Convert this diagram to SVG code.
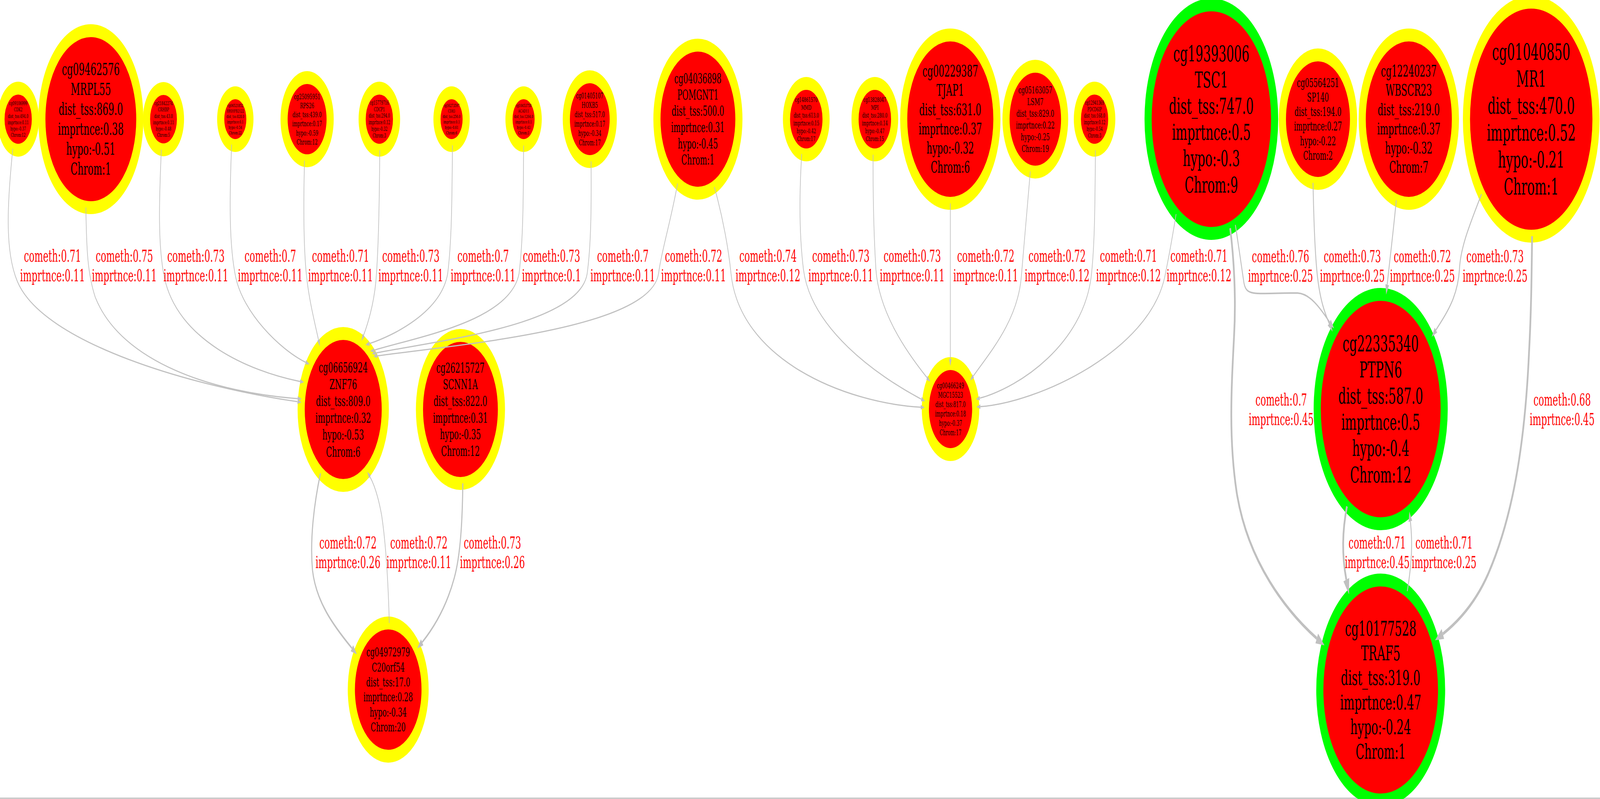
<svg xmlns="http://www.w3.org/2000/svg" width="7398" height="2045" viewBox="0 0 7398 2045" preserveAspectRatio="none">
<style>
svg{width:100%;height:100%}
.y circle{fill:#ff0000;stroke:#ffff00;stroke-width:33}
.g circle{fill:#ff0000;stroke:#00ff00;stroke-width:33}
.nodes text{font-family:"DejaVu Serif","Liberation Serif",serif;text-anchor:middle;fill:#000000}
.edges path{fill:none;stroke:#c0c0c0}
.edges text{font-family:"DejaVu Serif","Liberation Serif",serif;text-anchor:middle;fill:#ff0000;font-size:42px}
.t{stroke-width:3}
.m{stroke-width:4}
.h{stroke-width:5}
.k{stroke-width:8}
</style>
<defs>
<marker id="a3" markerUnits="userSpaceOnUse" viewBox="0 0 18 12" markerWidth="18" markerHeight="12" refX="0" refY="6" orient="auto"><path d="M0,0 L18,6 L0,12 z" fill="#c0c0c0"/></marker>
<marker id="a4" markerUnits="userSpaceOnUse" viewBox="0 0 26 17" markerWidth="26" markerHeight="17" refX="0" refY="8.5" orient="auto"><path d="M0,0 L26,8.5 L0,17 z" fill="#c0c0c0"/></marker>
<marker id="a5" markerUnits="userSpaceOnUse" viewBox="0 0 28 19" markerWidth="28" markerHeight="19" refX="0" refY="9.5" orient="auto"><path d="M0,0 L28,9.5 L0,19 z" fill="#c0c0c0"/></marker>
<marker id="a8" markerUnits="userSpaceOnUse" viewBox="0 0 40 28" markerWidth="40" markerHeight="28" refX="0" refY="14" orient="auto"><path d="M0,0 L40,14 L0,28 z" fill="#c0c0c0"/></marker>
</defs>
<rect x="0" y="0" width="7398" height="2045" fill="#ffffff"/>
<line x1="0" y1="2043" x2="7398" y2="2043" stroke="#c0c0c0" stroke-width="3"/>
<g class="nodes">
<g id="n-cg09106999" class="y"><circle cx="84" cy="305" r="79.5"/><text y="269.2" font-size="13.5"><tspan x="84">cg09106999</tspan><tspan x="84" dy="1.2em">CDK2</tspan><tspan x="84" dy="1.2em">dist_tss:494.0</tspan><tspan x="84" dy="1.2em">imprtnce:0.11</tspan><tspan x="84" dy="1.2em">hypo:-0.37</tspan><tspan x="84" dy="1.2em">Chrom:12</tspan></text></g>
<g id="n-cg09462576" class="y"><circle cx="420" cy="305" r="226.5"/><text y="192.4" font-size="42.5"><tspan x="420">cg09462576</tspan><tspan x="420" dy="1.2em">MRPL55</tspan><tspan x="420" dy="1.2em">dist_tss:869.0</tspan><tspan x="420" dy="1.2em">imprtnce:0.38</tspan><tspan x="420" dy="1.2em">hypo:-0.51</tspan><tspan x="420" dy="1.2em">Chrom:1</tspan></text></g>
<g id="n-cg21842274" class="y"><circle cx="756" cy="305" r="78.5"/><text y="269.2" font-size="13.5"><tspan x="756">cg21842274</tspan><tspan x="756" dy="1.2em">CRHBP</tspan><tspan x="756" dy="1.2em">dist_tss:43.0</tspan><tspan x="756" dy="1.2em">imprtnce:0.11</tspan><tspan x="756" dy="1.2em">hypo:-0.48</tspan><tspan x="756" dy="1.2em">Chrom:5</tspan></text></g>
<g id="n-cg06521852" class="y"><circle cx="1088" cy="305" r="67.5"/><text y="274" font-size="11.7"><tspan x="1088">cg06521852</tspan><tspan x="1088" dy="1.2em">HRIHFB2122</tspan><tspan x="1088" dy="1.2em">dist_tss:828.0</tspan><tspan x="1088" dy="1.2em">imprtnce:0.1</tspan><tspan x="1088" dy="1.2em">hypo:-0.54</tspan><tspan x="1088" dy="1.2em">Chrom:22</tspan></text></g>
<g id="n-cg25095951" class="y"><circle cx="1420" cy="305" r="106.5"/><text y="253.9" font-size="19.3"><tspan x="1420">cg25095951</tspan><tspan x="1420" dy="1.2em">RPS26</tspan><tspan x="1420" dy="1.2em">dist_tss:439.0</tspan><tspan x="1420" dy="1.2em">imprtnce:0.17</tspan><tspan x="1420" dy="1.2em">hypo:-0.59</tspan><tspan x="1420" dy="1.2em">Chrom:12</tspan></text></g>
<g id="n-cg15779716" class="y"><circle cx="1754" cy="305" r="79.5"/><text y="267.9" font-size="14"><tspan x="1754">cg15779716</tspan><tspan x="1754" dy="1.2em">CDCP1</tspan><tspan x="1754" dy="1.2em">dist_tss:294.0</tspan><tspan x="1754" dy="1.2em">imprtnce:0.12</tspan><tspan x="1754" dy="1.2em">hypo:-0.32</tspan><tspan x="1754" dy="1.2em">Chrom:3</tspan></text></g>
<g id="n-cg16273597" class="y"><circle cx="2088" cy="305" r="67.5"/><text y="274" font-size="11.7"><tspan x="2088">cg16273597</tspan><tspan x="2088" dy="1.2em">CD83</tspan><tspan x="2088" dy="1.2em">dist_tss:256.0</tspan><tspan x="2088" dy="1.2em">imprtnce:0.1</tspan><tspan x="2088" dy="1.2em">hypo:-0.61</tspan><tspan x="2088" dy="1.2em">Chrom:6</tspan></text></g>
<g id="n-cg10453758" class="y"><circle cx="2421" cy="305" r="67.5"/><text y="274" font-size="11.7"><tspan x="2421">cg10453758</tspan><tspan x="2421" dy="1.2em">ACAD11</tspan><tspan x="2421" dy="1.2em">dist_tss:1264.0</tspan><tspan x="2421" dy="1.2em">imprtnce:0.1</tspan><tspan x="2421" dy="1.2em">hypo:-0.43</tspan><tspan x="2421" dy="1.2em">Chrom:3</tspan></text></g>
<g id="n-cg01405107" class="y"><circle cx="2727" cy="305" r="108.5"/><text y="252" font-size="20"><tspan x="2727">cg01405107</tspan><tspan x="2727" dy="1.2em">HOXB5</tspan><tspan x="2727" dy="1.2em">dist_tss:517.0</tspan><tspan x="2727" dy="1.2em">imprtnce:0.17</tspan><tspan x="2727" dy="1.2em">hypo:-0.34</tspan><tspan x="2727" dy="1.2em">Chrom:17</tspan></text></g>
<g id="n-cg04036898" class="y"><circle cx="3227" cy="305" r="189.5"/><text y="213" font-size="34.7"><tspan x="3227">cg04036898</tspan><tspan x="3227" dy="1.2em">POMGNT1</tspan><tspan x="3227" dy="1.2em">dist_tss:500.0</tspan><tspan x="3227" dy="1.2em">imprtnce:0.31</tspan><tspan x="3227" dy="1.2em">hypo:-0.45</tspan><tspan x="3227" dy="1.2em">Chrom:1</tspan></text></g>
<g id="n-cg14861570" class="y"><circle cx="3728" cy="305" r="91.5"/><text y="260.7" font-size="16.7"><tspan x="3728">cg14861570</tspan><tspan x="3728" dy="1.2em">MMD</tspan><tspan x="3728" dy="1.2em">dist_tss:613.0</tspan><tspan x="3728" dy="1.2em">imprtnce:0.15</tspan><tspan x="3728" dy="1.2em">hypo:-0.42</tspan><tspan x="3728" dy="1.2em">Chrom:17</tspan></text></g>
<g id="n-cg13828047" class="y"><circle cx="4045" cy="305" r="91.5"/><text y="260.7" font-size="16.7"><tspan x="4045">cg13828047</tspan><tspan x="4045" dy="1.2em">MPI</tspan><tspan x="4045" dy="1.2em">dist_tss:280.0</tspan><tspan x="4045" dy="1.2em">imprtnce:0.14</tspan><tspan x="4045" dy="1.2em">hypo:-0.47</tspan><tspan x="4045" dy="1.2em">Chrom:15</tspan></text></g>
<g id="n-cg00229387" class="y"><circle cx="4394" cy="305" r="215.5"/><text y="196.3" font-size="41"><tspan x="4394">cg00229387</tspan><tspan x="4394" dy="1.2em">TJAP1</tspan><tspan x="4394" dy="1.2em">dist_tss:631.0</tspan><tspan x="4394" dy="1.2em">imprtnce:0.37</tspan><tspan x="4394" dy="1.2em">hypo:-0.32</tspan><tspan x="4394" dy="1.2em">Chrom:6</tspan></text></g>
<g id="n-cg05163057" class="y"><circle cx="4787" cy="305" r="135.5"/><text y="238.7" font-size="25"><tspan x="4787">cg05163057</tspan><tspan x="4787" dy="1.2em">LSM7</tspan><tspan x="4787" dy="1.2em">dist_tss:829.0</tspan><tspan x="4787" dy="1.2em">imprtnce:0.22</tspan><tspan x="4787" dy="1.2em">hypo:-0.25</tspan><tspan x="4787" dy="1.2em">Chrom:19</tspan></text></g>
<g id="n-cg12941369" class="y"><circle cx="5061" cy="305" r="79.5"/><text y="267.9" font-size="14"><tspan x="5061">cg12941369</tspan><tspan x="5061" dy="1.2em">PDCD6IP</tspan><tspan x="5061" dy="1.2em">dist_tss:168.0</tspan><tspan x="5061" dy="1.2em">imprtnce:0.12</tspan><tspan x="5061" dy="1.2em">hypo:-0.54</tspan><tspan x="5061" dy="1.2em">Chrom:3</tspan></text></g>
<g id="n-cg19393006" class="g"><circle cx="5601" cy="305" r="292.5"/><text y="156.6" font-size="56"><tspan x="5601">cg19393006</tspan><tspan x="5601" dy="1.2em">TSC1</tspan><tspan x="5601" dy="1.2em">dist_tss:747.0</tspan><tspan x="5601" dy="1.2em">imprtnce:0.5</tspan><tspan x="5601" dy="1.2em">hypo:-0.3</tspan><tspan x="5601" dy="1.2em">Chrom:9</tspan></text></g>
<g id="n-cg05564251" class="y"><circle cx="6094" cy="305" r="164.5"/><text y="222.8" font-size="31"><tspan x="6094">cg05564251</tspan><tspan x="6094" dy="1.2em">SP140</tspan><tspan x="6094" dy="1.2em">dist_tss:194.0</tspan><tspan x="6094" dy="1.2em">imprtnce:0.27</tspan><tspan x="6094" dy="1.2em">hypo:-0.22</tspan><tspan x="6094" dy="1.2em">Chrom:2</tspan></text></g>
<g id="n-cg12240237" class="y"><circle cx="6514" cy="305" r="215.5"/><text y="196.3" font-size="41"><tspan x="6514">cg12240237</tspan><tspan x="6514" dy="1.2em">WBSCR23</tspan><tspan x="6514" dy="1.2em">dist_tss:219.0</tspan><tspan x="6514" dy="1.2em">imprtnce:0.37</tspan><tspan x="6514" dy="1.2em">hypo:-0.32</tspan><tspan x="6514" dy="1.2em">Chrom:7</tspan></text></g>
<g id="n-cg01040850" class="y"><circle cx="7080" cy="305" r="299.5"/><text y="152.6" font-size="57.5"><tspan x="7080">cg01040850</tspan><tspan x="7080" dy="1.2em">MR1</tspan><tspan x="7080" dy="1.2em">dist_tss:470.0</tspan><tspan x="7080" dy="1.2em">imprtnce:0.52</tspan><tspan x="7080" dy="1.2em">hypo:-0.21</tspan><tspan x="7080" dy="1.2em">Chrom:1</tspan></text></g>
<g id="n-cg06656924" class="y"><circle cx="1587" cy="1048" r="194.5"/><text y="952.6" font-size="36"><tspan x="1587">cg06656924</tspan><tspan x="1587" dy="1.2em">ZNF76</tspan><tspan x="1587" dy="1.2em">dist_tss:809.0</tspan><tspan x="1587" dy="1.2em">imprtnce:0.32</tspan><tspan x="1587" dy="1.2em">hypo:-0.53</tspan><tspan x="1587" dy="1.2em">Chrom:6</tspan></text></g>
<g id="n-cg26215727" class="y"><circle cx="2129" cy="1048" r="189.5"/><text y="953.9" font-size="35.5"><tspan x="2129">cg26215727</tspan><tspan x="2129" dy="1.2em">SCNN1A</tspan><tspan x="2129" dy="1.2em">dist_tss:822.0</tspan><tspan x="2129" dy="1.2em">imprtnce:0.31</tspan><tspan x="2129" dy="1.2em">hypo:-0.35</tspan><tspan x="2129" dy="1.2em">Chrom:12</tspan></text></g>
<g id="n-cg00466249" class="y"><circle cx="4395" cy="1047" r="116.5"/><text y="994" font-size="20"><tspan x="4395">cg00466249</tspan><tspan x="4395" dy="1.2em">MGC15523</tspan><tspan x="4395" dy="1.2em">dist_tss:817.0</tspan><tspan x="4395" dy="1.2em">imprtnce:0.18</tspan><tspan x="4395" dy="1.2em">hypo:-0.37</tspan><tspan x="4395" dy="1.2em">Chrom:17</tspan></text></g>
<g id="n-cg22335340" class="g"><circle cx="6384" cy="1047" r="293.5"/><text y="898.6" font-size="56"><tspan x="6384">cg22335340</tspan><tspan x="6384" dy="1.2em">PTPN6</tspan><tspan x="6384" dy="1.2em">dist_tss:587.0</tspan><tspan x="6384" dy="1.2em">imprtnce:0.5</tspan><tspan x="6384" dy="1.2em">hypo:-0.4</tspan><tspan x="6384" dy="1.2em">Chrom:12</tspan></text></g>
<g id="n-cg04972979" class="y"><circle cx="1795" cy="1765" r="170.5"/><text y="1680.2" font-size="32"><tspan x="1795">cg04972979</tspan><tspan x="1795" dy="1.2em">C20orf54</tspan><tspan x="1795" dy="1.2em">dist_tss:17.0</tspan><tspan x="1795" dy="1.2em">imprtnce:0.28</tspan><tspan x="1795" dy="1.2em">hypo:-0.34</tspan><tspan x="1795" dy="1.2em">Chrom:20</tspan></text></g>
<g id="n-cg10177528" class="g"><circle cx="6384" cy="1766" r="281.5"/><text y="1626.9" font-size="52.5"><tspan x="6384">cg10177528</tspan><tspan x="6384" dy="1.2em">TRAF5</tspan><tspan x="6384" dy="1.2em">dist_tss:319.0</tspan><tspan x="6384" dy="1.2em">imprtnce:0.47</tspan><tspan x="6384" dy="1.2em">hypo:-0.24</tspan><tspan x="6384" dy="1.2em">Chrom:1</tspan></text></g>
</g>
<g id="connectors" class="edges">
<g id="e1"><path class="t" marker-end="url(#a3)" d="M59,380.5 C35,520 20,640 80,720 C200,880 900,990 1375.5,1028.1"/><text y="670"><tspan x="243">cometh:0.71</tspan><tspan x="243" dy="50.5">imprtnce:0.11</tspan></text></g>
<g id="e2"><path class="t" marker-end="url(#a3)" d="M397,531 C400,640 405,700 440,760 C560,930 1000,1005 1376.4,1020.3"/><text y="670"><tspan x="575">cometh:0.75</tspan><tspan x="575" dy="50.5">imprtnce:0.11</tspan></text></g>
<g id="e3"><path class="t" marker-end="url(#a3)" d="M746,383 C735,520 730,630 760,710 C820,870 1150,950 1387.6,976.3"/><text y="670"><tspan x="906">cometh:0.73</tspan><tspan x="906" dy="50.5">imprtnce:0.11</tspan></text></g>
<g id="e4"><path class="t" marker-end="url(#a3)" d="M1071,370 C1060,520 1060,630 1090,710 C1125,800 1290,893 1413.7,927.5"/><text y="670"><tspan x="1250">cometh:0.7</tspan><tspan x="1250" dy="50.5">imprtnce:0.11</tspan></text></g>
<g id="e5"><path class="t" marker-end="url(#a3)" d="M1408,411 C1402,540 1404,640 1418,710 C1430,770 1455,825 1472.6,869.8"/><text y="670"><tspan x="1575">cometh:0.71</tspan><tspan x="1575" dy="50.5">imprtnce:0.11</tspan></text></g>
<g id="e6"><path class="t" marker-end="url(#a3)" d="M1756,384.5 C1754,520 1750,640 1738,720 C1728,780 1700,830 1681.4,857.6"/><text y="670"><tspan x="1900">cometh:0.73</tspan><tspan x="1900" dy="50.5">imprtnce:0.11</tspan></text></g>
<g id="e7"><path class="t" marker-end="url(#a3)" d="M2092,372 C2090,520 2088,620 2070,700 C2040,800 1814,860 1707.7,879.5"/><text y="670"><tspan x="2234">cometh:0.7</tspan><tspan x="2234" dy="50.5">imprtnce:0.11</tspan></text></g>
<g id="e8"><path class="t" marker-end="url(#a3)" d="M2421,372.5 C2420,520 2418,620 2400,700 C2360,820 1950,860 1729.8,896.2"/><text y="670"><tspan x="2550">cometh:0.73</tspan><tspan x="2550" dy="50.5">imprtnce:0.1</tspan></text></g>
<g id="e9"><path class="t" marker-end="url(#a3)" d="M2733,413 C2735,540 2732,630 2715,700 C2680,830 2050,870 1737.5,903.5"/><text y="670"><tspan x="2880">cometh:0.7</tspan><tspan x="2880" dy="50.5">imprtnce:0.11</tspan></text></g>
<g id="e10"><path class="t" marker-end="url(#a3)" d="M3133,469.5 C3104,560 3060,640 3045,700 C3010,840 2150,880 1744.8,910.8"/><text y="670"><tspan x="3207">cometh:0.72</tspan><tspan x="3207" dy="50.5">imprtnce:0.11</tspan></text></g>
<g id="e11"><path class="t" marker-end="url(#a3)" d="M1800,1594.6 C1795,1490 1785,1395 1765,1320 C1752,1280 1735,1245 1710.6,1220.3"/><text y="1404"><tspan x="1937">cometh:0.72</tspan><tspan x="1937" dy="50.5">imprtnce:0.11</tspan></text></g>
<g id="e12"><path class="h" marker-end="url(#a5)" d="M1481.7,1211.5 C1452,1290 1432,1380 1445,1460 C1462,1540 1540,1600 1627.2,1659"/><text y="1404"><tspan x="1609">cometh:0.72</tspan><tspan x="1609" dy="50.5">imprtnce:0.26</tspan></text></g>
<g id="e13"><path class="h" marker-end="url(#a5)" d="M2140,1237 C2138,1330 2130,1420 2100,1480 C2068,1545 2015,1600 1952.1,1643.8"/><text y="1404"><tspan x="2277">cometh:0.73</tspan><tspan x="2277" dy="50.5">imprtnce:0.26</tspan></text></g>
<g id="e14"><path class="t" marker-end="url(#a3)" d="M3303,478.6 C3344,560 3369,640 3380,700 C3420,920 3900,1030 4257,1042.3"/><text y="670"><tspan x="3551">cometh:0.74</tspan><tspan x="3551" dy="50.5">imprtnce:0.12</tspan></text></g>
<g id="e15"><path class="t" marker-end="url(#a3)" d="M3707,394 C3695,500 3695,600 3715,690 C3750,840 4050,960 4259.8,1021.6"/><text y="670"><tspan x="3888">cometh:0.73</tspan><tspan x="3888" dy="50.5">imprtnce:0.11</tspan></text></g>
<g id="e16"><path class="t" marker-end="url(#a3)" d="M4037,396 C4036,500 4040,600 4050,690 C4065,800 4190,900 4286.2,966.5"/><text y="670"><tspan x="4218">cometh:0.73</tspan><tspan x="4218" dy="50.5">imprtnce:0.11</tspan></text></g>
<g id="e17"><path class="t" marker-end="url(#a3)" d="M4394,520.5 L4394,919"/><text y="670"><tspan x="4558">cometh:0.72</tspan><tspan x="4558" dy="50.5">imprtnce:0.11</tspan></text></g>
<g id="e18"><path class="t" marker-end="url(#a3)" d="M4764,438.5 C4745,560 4733,640 4722,710 C4705,820 4580,900 4500.1,962.6"/><text y="670"><tspan x="4888">cometh:0.72</tspan><tspan x="4888" dy="50.5">imprtnce:0.12</tspan></text></g>
<g id="e19"><path class="t" marker-end="url(#a3)" d="M5065,384.4 C5063,520 5062,630 5045,710 C5005,880 4720,990 4530.3,1019.1"/><text y="670"><tspan x="5218">cometh:0.71</tspan><tspan x="5218" dy="50.5">imprtnce:0.12</tspan></text></g>
<g id="e20"><path class="t" marker-end="url(#a3)" d="M5438,548 C5420,610 5400,670 5385,710 C5310,900 4800,1030 4533,1040.8"/><text y="670"><tspan x="5544">cometh:0.71</tspan><tspan x="5544" dy="50.5">imprtnce:0.12</tspan></text></g>
<g id="e21"><path class="m" marker-end="url(#a4)" d="M5712,575.6 C5730,640 5745,700 5752,725 C5765,760 5800,750 6000,750 C6060,752 6105,790 6148,824.4"/><text y="671"><tspan x="5921">cometh:0.76</tspan><tspan x="5921" dy="50.5">imprtnce:0.25</tspan></text></g>
<g id="e22"><path class="m" marker-end="url(#a4)" d="M6071,468 C6075,570 6080,650 6092,710 C6105,770 6125,800 6146,828"/><text y="671"><tspan x="6253">cometh:0.73</tspan><tspan x="6253" dy="50.5">imprtnce:0.25</tspan></text></g>
<g id="e23"><path class="m" marker-end="url(#a4)" d="M6456,512.5 C6443,590 6425,670 6414.1,728.5"/><text y="671"><tspan x="6577">cometh:0.72</tspan><tspan x="6577" dy="50.5">imprtnce:0.25</tspan></text></g>
<g id="e24"><path class="m" marker-end="url(#a4)" d="M6850,497 C6800,570 6753,630 6748,690 C6740,760 6690,800 6639.4,844.7"/><text y="671"><tspan x="6913">cometh:0.73</tspan><tspan x="6913" dy="50.5">imprtnce:0.25</tspan></text></g>
<g id="e25"><path class="k" marker-end="url(#a8)" d="M5688,584 C5705,660 5716,760 5706,860 C5694,990 5680,1120 5718,1260 C5770,1440 5950,1565 6088.3,1633.9"/><text y="1038"><tspan x="5924">cometh:0.7</tspan><tspan x="5924" dy="50.5">imprtnce:0.45</tspan></text></g>
<g id="e26"><path class="k" marker-end="url(#a8)" d="M7084,604.5 C7082,700 7080,800 7070,900 C7050,1150 6990,1330 6880,1470 C6820,1545 6740,1592 6671.6,1622.4"/><text y="1038"><tspan x="7223">cometh:0.68</tspan><tspan x="7223" dy="50.5">imprtnce:0.45</tspan></text></g>
<g id="e27"><path class="k" marker-end="url(#a8)" d="M6228,1296 C6206,1360 6204,1420 6225,1483.5"/><text y="1404"><tspan x="6368">cometh:0.71</tspan><tspan x="6368" dy="50.5">imprtnce:0.45</tspan></text></g>
<g id="e28"><path class="m" marker-end="url(#a4)" d="M6507,1513 C6528,1440 6532,1390 6521.3,1334.5"/><text y="1404"><tspan x="6677">cometh:0.71</tspan><tspan x="6677" dy="50.5">imprtnce:0.25</tspan></text></g>
</g>
</svg>
